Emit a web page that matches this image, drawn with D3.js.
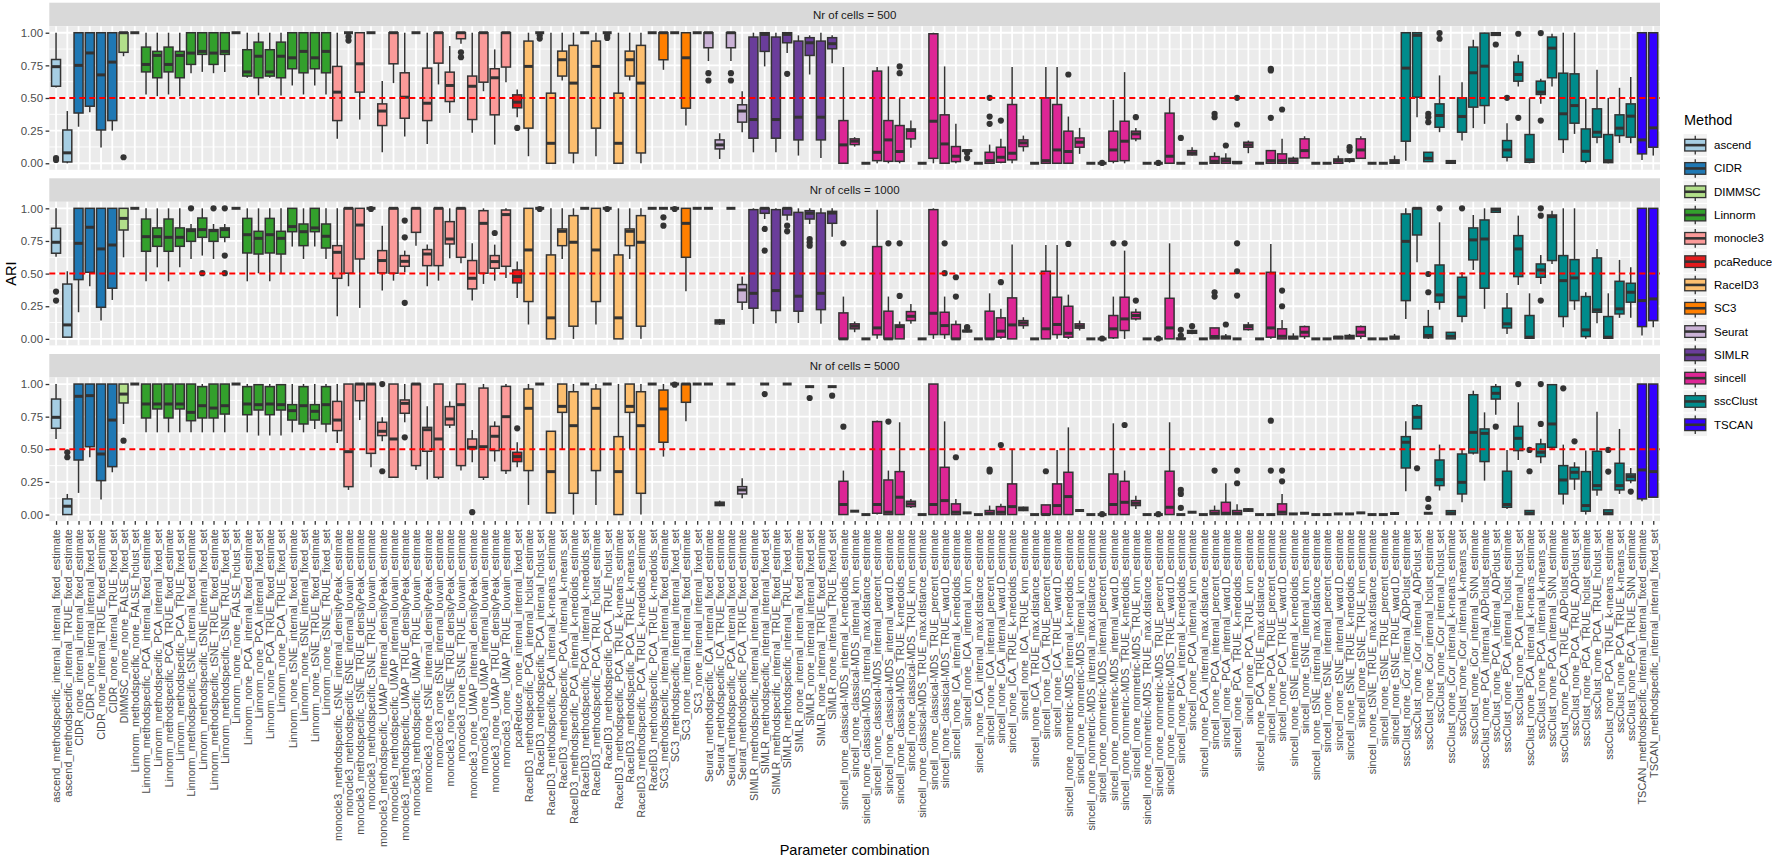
<!DOCTYPE html>
<html><head><meta charset="utf-8">
<script src="https://cdn.jsdelivr.net/npm/d3@7"></script>
<style>
body{margin:0;background:#fff;}
text{font-family:"Liberation Sans",Arial,Helvetica,sans-serif;}
</style>
</head><body>
<svg id="chart" width="1772" height="863"></svg>
<script>
// ---------------- DATA ----------------
const categories = [
"ascend_methodspecific_internal_internal_fixed_estimate",
"ascend_methodspecific_internal_TRUE_fixed_estimate",
"CIDR_none_internal_internal_fixed_estimate",
"CIDR_none_internal_internal_fixed_set",
"CIDR_none_internal_TRUE_fixed_estimate",
"CIDR_none_internal_TRUE_fixed_set",
"DIMMSC_none_none_FALSE_fixed_set",
"Linnorm_methodspecific_none_FALSE_hclust_set",
"Linnorm_methodspecific_PCA_internal_fixed_estimate",
"Linnorm_methodspecific_PCA_internal_fixed_set",
"Linnorm_methodspecific_PCA_TRUE_fixed_estimate",
"Linnorm_methodspecific_PCA_TRUE_fixed_set",
"Linnorm_methodspecific_tSNE_internal_fixed_estimate",
"Linnorm_methodspecific_tSNE_internal_fixed_set",
"Linnorm_methodspecific_tSNE_TRUE_fixed_estimate",
"Linnorm_methodspecific_tSNE_TRUE_fixed_set",
"Linnorm_none_none_FALSE_hclust_set",
"Linnorm_none_PCA_internal_fixed_estimate",
"Linnorm_none_PCA_internal_fixed_set",
"Linnorm_none_PCA_TRUE_fixed_estimate",
"Linnorm_none_PCA_TRUE_fixed_set",
"Linnorm_none_tSNE_internal_fixed_estimate",
"Linnorm_none_tSNE_internal_fixed_set",
"Linnorm_none_tSNE_TRUE_fixed_estimate",
"Linnorm_none_tSNE_TRUE_fixed_set",
"monocle3_methodspecific_tSNE_internal_densityPeak_estimate",
"monocle3_methodspecific_tSNE_internal_louvain_estimate",
"monocle3_methodspecific_tSNE_TRUE_densityPeak_estimate",
"monocle3_methodspecific_tSNE_TRUE_louvain_estimate",
"monocle3_methodspecific_UMAP_internal_densityPeak_estimate",
"monocle3_methodspecific_UMAP_internal_louvain_estimate",
"monocle3_methodspecific_UMAP_TRUE_densityPeak_estimate",
"monocle3_methodspecific_UMAP_TRUE_louvain_estimate",
"monocle3_none_tSNE_internal_densityPeak_estimate",
"monocle3_none_tSNE_internal_louvain_estimate",
"monocle3_none_tSNE_TRUE_densityPeak_estimate",
"monocle3_none_tSNE_TRUE_louvain_estimate",
"monocle3_none_UMAP_internal_densityPeak_estimate",
"monocle3_none_UMAP_internal_louvain_estimate",
"monocle3_none_UMAP_TRUE_densityPeak_estimate",
"monocle3_none_UMAP_TRUE_louvain_estimate",
"pcaReduce_none_internal_internal_fixed_set",
"RaceID3_methodspecific_PCA_internal_hclust_estimate",
"RaceID3_methodspecific_PCA_internal_hclust_set",
"RaceID3_methodspecific_PCA_internal_k-means_estimate",
"RaceID3_methodspecific_PCA_internal_k-means_set",
"RaceID3_methodspecific_PCA_internal_k-medoids_estimate",
"RaceID3_methodspecific_PCA_internal_k-medoids_set",
"RaceID3_methodspecific_PCA_TRUE_hclust_estimate",
"RaceID3_methodspecific_PCA_TRUE_hclust_set",
"RaceID3_methodspecific_PCA_TRUE_k-means_estimate",
"RaceID3_methodspecific_PCA_TRUE_k-means_set",
"RaceID3_methodspecific_PCA_TRUE_k-medoids_estimate",
"RaceID3_methodspecific_PCA_TRUE_k-medoids_set",
"SC3_methodspecific_internal_internal_fixed_estimate",
"SC3_methodspecific_internal_internal_fixed_set",
"SC3_none_internal_internal_fixed_estimate",
"SC3_none_internal_internal_fixed_set",
"Seurat_methodspecific_ICA_internal_fixed_estimate",
"Seurat_methodspecific_ICA_TRUE_fixed_estimate",
"Seurat_methodspecific_PCA_internal_fixed_estimate",
"Seurat_methodspecific_PCA_TRUE_fixed_estimate",
"SIMLR_methodspecific_internal_internal_fixed_estimate",
"SIMLR_methodspecific_internal_internal_fixed_set",
"SIMLR_methodspecific_internal_TRUE_fixed_estimate",
"SIMLR_methodspecific_internal_TRUE_fixed_set",
"SIMLR_none_internal_internal_fixed_estimate",
"SIMLR_none_internal_internal_fixed_set",
"SIMLR_none_internal_TRUE_fixed_estimate",
"SIMLR_none_internal_TRUE_fixed_set",
"sincell_none_classical-MDS_internal_k-medoids_estimate",
"sincell_none_classical-MDS_internal_knn_estimate",
"sincell_none_classical-MDS_internal_max.distance_estimate",
"sincell_none_classical-MDS_internal_percent_estimate",
"sincell_none_classical-MDS_internal_ward.D_estimate",
"sincell_none_classical-MDS_TRUE_k-medoids_estimate",
"sincell_none_classical-MDS_TRUE_knn_estimate",
"sincell_none_classical-MDS_TRUE_max.distance_estimate",
"sincell_none_classical-MDS_TRUE_percent_estimate",
"sincell_none_classical-MDS_TRUE_ward.D_estimate",
"sincell_none_ICA_internal_k-medoids_estimate",
"sincell_none_ICA_internal_knn_estimate",
"sincell_none_ICA_internal_max.distance_estimate",
"sincell_none_ICA_internal_percent_estimate",
"sincell_none_ICA_internal_ward.D_estimate",
"sincell_none_ICA_TRUE_k-medoids_estimate",
"sincell_none_ICA_TRUE_knn_estimate",
"sincell_none_ICA_TRUE_max.distance_estimate",
"sincell_none_ICA_TRUE_percent_estimate",
"sincell_none_ICA_TRUE_ward.D_estimate",
"sincell_none_nonmetric-MDS_internal_k-medoids_estimate",
"sincell_none_nonmetric-MDS_internal_knn_estimate",
"sincell_none_nonmetric-MDS_internal_max.distance_estimate",
"sincell_none_nonmetric-MDS_internal_percent_estimate",
"sincell_none_nonmetric-MDS_internal_ward.D_estimate",
"sincell_none_nonmetric-MDS_TRUE_k-medoids_estimate",
"sincell_none_nonmetric-MDS_TRUE_knn_estimate",
"sincell_none_nonmetric-MDS_TRUE_max.distance_estimate",
"sincell_none_nonmetric-MDS_TRUE_percent_estimate",
"sincell_none_nonmetric-MDS_TRUE_ward.D_estimate",
"sincell_none_PCA_internal_k-medoids_estimate",
"sincell_none_PCA_internal_knn_estimate",
"sincell_none_PCA_internal_max.distance_estimate",
"sincell_none_PCA_internal_percent_estimate",
"sincell_none_PCA_internal_ward.D_estimate",
"sincell_none_PCA_TRUE_k-medoids_estimate",
"sincell_none_PCA_TRUE_knn_estimate",
"sincell_none_PCA_TRUE_max.distance_estimate",
"sincell_none_PCA_TRUE_percent_estimate",
"sincell_none_PCA_TRUE_ward.D_estimate",
"sincell_none_tSNE_internal_k-medoids_estimate",
"sincell_none_tSNE_internal_knn_estimate",
"sincell_none_tSNE_internal_max.distance_estimate",
"sincell_none_tSNE_internal_percent_estimate",
"sincell_none_tSNE_internal_ward.D_estimate",
"sincell_none_tSNE_TRUE_k-medoids_estimate",
"sincell_none_tSNE_TRUE_knn_estimate",
"sincell_none_tSNE_TRUE_max.distance_estimate",
"sincell_none_tSNE_TRUE_percent_estimate",
"sincell_none_tSNE_TRUE_ward.D_estimate",
"sscClust_none_iCor_internal_ADPclust_estimate",
"sscClust_none_iCor_internal_ADPclust_set",
"sscClust_none_iCor_internal_hclust_estimate",
"sscClust_none_iCor_internal_hclust_set",
"sscClust_none_iCor_internal_k-means_estimate",
"sscClust_none_iCor_internal_k-means_set",
"sscClust_none_iCor_internal_SNN_estimate",
"sscClust_none_PCA_internal_ADPclust_estimate",
"sscClust_none_PCA_internal_ADPclust_set",
"sscClust_none_PCA_internal_hclust_estimate",
"sscClust_none_PCA_internal_hclust_set",
"sscClust_none_PCA_internal_k-means_estimate",
"sscClust_none_PCA_internal_k-means_set",
"sscClust_none_PCA_internal_SNN_estimate",
"sscClust_none_PCA_TRUE_ADPclust_estimate",
"sscClust_none_PCA_TRUE_ADPclust_set",
"sscClust_none_PCA_TRUE_hclust_estimate",
"sscClust_none_PCA_TRUE_hclust_set",
"sscClust_none_PCA_TRUE_k-means_estimate",
"sscClust_none_PCA_TRUE_k-means_set",
"sscClust_none_PCA_TRUE_SNN_estimate",
"TSCAN_methodspecific_internal_internal_fixed_estimate",
"TSCAN_methodspecific_internal_internal_fixed_set"
];

const methods = ["ascend","CIDR","DIMMSC","Linnorm","monocle3","pcaReduce","RaceID3","SC3","Seurat","SIMLR","sincell","sscClust","TSCAN"];
const methodColors = ["#A6CEE3","#1F78B4","#B2DF8A","#33A02C","#FB9A99","#E31A1C","#FDBF6F","#FF7F00","#CAB2D6","#6A3D9A","#DD2695","#008B8B","#3300FF"];

const panelLabels = ["Nr of cells = 500","Nr of cells = 1000","Nr of cells = 5000"];
const yTicks = [0, 0.25, 0.5, 0.75, 1];
const yTickLabels = ["0.00","0.25","0.50","0.75","1.00"];
const refLine = 0.5;

// box statistics per category: [lower whisker, Q1, median, Q3, upper whisker]
const stats500 = [
[0.58,0.59,0.74,0.795,1],[0,0.01,0.08,0.255,0.40],[0.28,0.385,0.75,1,1],[0.39,0.437,0.845,1,1],[0.12,0.255,0.677,1,1],[0.25,0.327,0.775,1,1],[0.82,0.85,1,1,1],[1,1,1,1,1],
[0.527,0.70,0.757,0.89,1],[0.514,0.655,0.826,0.857,1],[0.527,0.70,0.757,0.89,1],[0.514,0.655,0.826,0.857,1],[0.69,0.757,0.844,1,1],[0.70,0.834,0.857,1,1],[0.69,0.757,0.844,1,1],[0.70,0.834,0.857,1,1],
[1,1,1,1,1],[0.655,0.668,0.70,0.87,1],[0.52,0.655,0.82,0.928,1],[0.655,0.668,0.70,0.87,1],[0.52,0.655,0.82,0.928,1],[0.596,0.724,0.808,1,1],[0.527,0.693,0.857,1,1],[0.596,0.724,0.808,1,1],[0.527,0.693,0.857,1,1],
[0.187,0.327,0.545,0.742,1],[1,1,1,1,1],[0.335,0.545,0.762,1,1],[1,1,1,1,1],[0.084,0.289,0.40,0.455,0.63],[0.614,0.762,1,1,1],[0.205,0.345,0.506,0.693,1],[1,1,1,1,1],
[0.148,0.327,0.46,0.729,1],[0.604,0.767,1,1,1],[0.386,0.473,0.596,0.698,0.898],[0.916,0.954,1,1,1],[0.233,0.335,0.59,0.668,1],[0.552,0.621,1,1,1],[0.143,0.371,0.655,0.724,0.872],[0.621,0.737,1,1,1],
[0.353,0.425,0.468,0.524,0.565],
[0.054,0.269,0.742,0.936,1],[1,1,1,1,1],[0,0,0.153,0.537,1],[0.634,0.668,0.793,0.859,1],[0,0.079,0.614,0.903,1],[1,1,1,1,1],
[0.054,0.269,0.742,0.936,1],[1,1,1,1,1],[0,0,0.153,0.537,1],[0.634,0.668,0.793,0.859,1],[0,0.079,0.614,0.903,1],[1,1,1,1,1],
[0.716,0.793,1,1,1],[1,1,1,1,1],[0.289,0.422,0.808,1,1],[1,1,1,1,1],
[0.783,0.885,1,1,1],[0.033,0.11,0.141,0.179,0.23],[0.783,0.885,1,1,1],[0.238,0.315,0.40,0.448,0.552],
[0.084,0.192,0.335,0.967,1],[0.742,0.857,0.987,1,1],[0.084,0.192,0.335,0.967,1],[0.844,0.923,0.987,1,1],[0.059,0.179,0.353,0.936,0.98],[0.68,0.826,0.923,0.962,0.98],[0.04,0.179,0.353,0.936,1],[0.767,0.877,0.916,0.962,0.98],
[0,0,0.141,0.327,0.737],[0.128,0.143,0.169,0.187,0.20],[0,0,0,0,0],[0,0.02,0.084,0.706,0.737],[0,0.015,0.179,0.327,0.742],[0,0.015,0.09,0.289,0.501],[0.118,0.187,0.251,0.263,0.327],[0,0,0,0,0],[0,0.038,0.322,0.992,1],[0,0,0.148,0.371,0.742],
[0,0.013,0.054,0.128,0.302],[0.09,0.092,0.097,0.10,0.10],[0,0,0,0,0],[0,0,0.02,0.084,0.143],[0,0.008,0.046,0.123,0.187],[0,0.026,0.077,0.45,0.737],[0.09,0.128,0.156,0.179,0.212],[0,0,0,0,0],[0,0,0.02,0.501,0.737],[0,0,0.102,0.45,0.737],
[0,0,0.09,0.246,0.358],[0.072,0.123,0.161,0.194,0.271],[0,0,0,0,0],[0,0,0,0,0],[0,0.015,0.102,0.246,0.486],[0,0.02,0.169,0.322,0.698],[0.169,0.187,0.225,0.246,0.271],[0,0,0,0,0],[0,0,0,0,0],[0,0,0.054,0.384,0.501],
[0,0,0,0,0],[0.059,0.064,0.079,0.097,0.123],[0,0,0,0,0],[0,0,0.015,0.051,0.084],[0,0,0.02,0.038,0.077],[0,0,0.003,0.013,0.013],[0.077,0.123,0.141,0.161,0.174],[0,0,0,0,0],[0,0,0.02,0.097,0.097],[0,0,0.02,0.072,0.187],
[0,0,0.02,0.038,0.051],[0.041,0.041,0.097,0.187,0.207],[0,0,0,0,0],[0,0,0,0,0],[0,0,0.02,0.033,0.059],[0.005,0.015,0.026,0.033,0.04],[0.038,0.038,0.102,0.187,0.207],[0,0,0,0,0],[0,0,0,0,0],[0,0,0.013,0.026,0.059],
[0.02,0.169,0.729,1,1],[0.353,0.506,0.98,1,1],[0.013,0.013,0.038,0.084,0.084],[0.238,0.276,0.366,0.455,0.673],[0,0,0.01,0.02,0.02],[0.174,0.238,0.358,0.501,0.621],[0.269,0.43,0.693,0.89,0.946],
[0.302,0.442,0.744,0.997,1],[0.98,0.98,0.99,1,1],[0.013,0.046,0.102,0.174,0.307],[0.588,0.629,0.68,0.775,0.831],[0,0.008,0.026,0.22,0.501],[0.455,0.527,0.545,0.629,0.647],[0.588,0.655,0.882,0.967,0.992],
[0.079,0.182,0.379,0.69,1],[0.225,0.307,0.442,0.685,1],[0,0.015,0.092,0.263,0.494],[0.153,0.2,0.238,0.417,0.716],[0,0.005,0.02,0.22,0.501],[0.156,0.212,0.269,0.371,0.578],[0.153,0.2,0.361,0.455,0.66],
[0.026,0.072,0.179,1,1],[0.059,0.123,0.271,1,1]
];

const stats1000 = [
[0.63,0.656,0.74,0.847,1],[0.013,0.013,0.107,0.42,0.518],[0.204,0.454,0.732,1,1],[0.403,0.51,0.855,1,1],[0.14,0.242,0.689,1,1],[0.298,0.388,0.719,1,1],[0.625,0.834,0.923,1,1],[1,1,1,1,1],
[0.441,0.671,0.783,0.918,1],[0.548,0.709,0.783,0.85,1],[0.441,0.671,0.778,0.918,1],[0.548,0.709,0.778,0.85,1],[0.612,0.747,0.829,0.842,0.88],[0.638,0.778,0.837,0.926,1],[0.612,0.747,0.829,0.837,0.88],[0.74,0.778,0.837,0.85,0.88],
[1,1,1,1,1],[0.441,0.658,0.798,0.923,1],[0.503,0.65,0.77,0.824,1],[0.441,0.658,0.798,0.923,1],[0.503,0.65,0.77,0.824,1],[0.707,0.821,0.86,1,1],[0.612,0.714,0.821,0.88,1],[0.707,0.821,0.85,1,1],[0.612,0.696,0.786,0.88,1],
[0.173,0.464,0.663,0.714,1],[0.403,0.503,1,1,1],[0.237,0.612,0.872,1,1],[1,1,1,1,1],[0.37,0.505,0.6,0.676,0.867],[0.446,0.503,1,1,1],[0.51,0.556,0.594,0.638,0.676],[0.714,0.816,1,1,1],
[0.403,0.561,0.65,0.684,0.722],[0.446,0.561,1,1,1],[0.617,0.727,0.765,0.898,1],[0.579,0.625,1,1,1],[0.293,0.383,0.464,0.6,0.732],[0.421,0.503,0.885,0.982,1],[0.446,0.541,0.592,0.638,0.722],[0.467,0.556,0.952,0.987,1],
[0.314,0.429,0.477,0.528,0.592],
[0.11,0.286,0.681,1,1],[1,1,1,1,1],[0,0,0.161,0.643,1],[0.612,0.714,0.824,0.842,1],[0,0.097,0.74,0.944,1],[1,1,1,1,1],
[0.11,0.286,0.681,1,1],[1,1,1,1,1],[0,0,0.161,0.643,1],[0.612,0.714,0.824,0.842,1],[0,0.097,0.74,0.944,1],[1,1,1,1,1],
[1,1,1,1,1],[1,1,1,1,1],[0.365,0.625,0.885,1,1],[1,1,1,1,1],
[1,1,1,1,1],[0.107,0.115,0.133,0.145,0.153],[1,1,1,1,1],[0.222,0.281,0.375,0.416,0.477],
[0.115,0.235,0.349,0.99,1],[0.918,0.962,1,1,1],[0.12,0.217,0.37,0.99,1],[0.906,0.949,1,1,1],[0.122,0.212,0.327,0.969,1],[0.88,0.918,0.962,0.982,1],[0.115,0.224,0.349,0.964,1],[0.783,0.885,0.964,0.977,1],
[0,0,0,0.199,0.324],[0.051,0.077,0.097,0.115,0.133],[0,0,0,0,0],[0,0.031,0.084,0.707,0.99],[0,0,0,0.212,0.324],[0,0,0.094,0.107,0.133],[0.115,0.14,0.173,0.209,0.268],[0,0,0,0,0],[0,0.033,0.196,0.99,1],[0,0.033,0.102,0.204,0.324],
[0,0,0,0.11,0.14],[0.05,0.055,0.06,0.065,0.07],[0,0,0,0,0],[0,0,0,0.212,0.349],[0,0.013,0.059,0.161,0.23],[0,0,0.107,0.314,0.722],[0.077,0.102,0.122,0.14,0.166],[0,0,0,0,0],[0,0,0.077,0.518,0.719],[0,0.033,0.11,0.319,0.719],
[0,0.013,0.043,0.25,0.339],[0.064,0.082,0.097,0.115,0.14],[0,0,0,0,0],[0,0,0,0,0],[0,0.008,0.077,0.179,0.324],[0,0.064,0.153,0.319,0.676],[0.14,0.153,0.179,0.204,0.23],[0,0,0,0,0],[0,0,0,0,0],[0,0,0.084,0.311,0.732],
[0,0,0,0.005,0.01],[0.035,0.043,0.051,0.064,0.07],[0,0,0,0,0],[0,0,0.018,0.084,0.084],[0,0,0.013,0.02,0.038],[0,0,0,0,0],[0.064,0.071,0.094,0.107,0.128],[0,0,0,0,0],[0,0.013,0.084,0.51,0.727],[0,0,0.02,0.077,0.145],
[0,0,0.008,0.02,0.043],[0,0.018,0.051,0.094,0.102],[0,0,0,0,0],[0,0,0,0,0],[0,0,0.013,0.018,0.018],[0,0,0.013,0.026,0.038],[0,0.02,0.051,0.094,0.102],[0,0,0,0,0],[0,0,0,0,0],[0,0,0.008,0.02,0.038],
[0.153,0.293,0.747,0.957,1],[0.587,0.796,1,1,1],[0,0.008,0.026,0.094,0.222],[0.224,0.281,0.337,0.566,0.893],[0,0,0.02,0.05,0.05],[0.128,0.173,0.319,0.472,0.51],[0.528,0.605,0.758,0.85,0.949],
[0.23,0.388,0.765,0.911,1],[0.97,0.97,0.99,1,1],[0.038,0.084,0.115,0.235,0.352],[0.413,0.477,0.689,0.791,0.944],[0,0.005,0.013,0.179,0.349],[0.421,0.472,0.528,0.574,0.643],[0.574,0.6,0.936,0.949,0.982],
[0.089,0.171,0.446,0.638,1],[0.222,0.293,0.467,0.607,1],[0,0.018,0.069,0.324,0.357],[0.12,0.204,0.222,0.62,0.689],[0,0.005,0.013,0.171,0.349],[0.161,0.191,0.23,0.441,0.605],[0.161,0.281,0.357,0.426,0.548],
[0.026,0.094,0.293,1,1],[0.089,0.14,0.306,1,1]
];

const stats5000 = [
[0.579,0.661,0.745,0.885,1],[0,0,0.064,0.12,0.158],[0.166,0.418,0.906,1,1],[0.439,0.52,0.911,1,1],[0.115,0.26,0.464,1,1],[0.324,0.367,0.724,1,1],[0.694,0.855,0.923,1,1],[1,1,1,1,1],
[0.63,0.74,0.847,1,1],[0.63,0.809,0.847,1,1],[0.63,0.74,0.847,1,1],[0.63,0.809,0.847,1,1],[0.63,0.719,0.783,1,1],[0.63,0.74,0.834,0.98,1],[0.63,0.74,0.816,1,1],[0.63,0.77,0.834,1,1],
[1,1,1,1,1],[0.63,0.765,0.847,0.98,1],[0.605,0.801,0.842,0.995,1],[0.605,0.765,0.847,0.98,1],[0.605,0.801,0.842,0.995,1],[0.63,0.724,0.796,0.842,1],[0.63,0.694,0.834,0.98,1],[0.656,0.724,0.791,0.842,1],[0.63,0.694,0.842,0.98,1],
[0.548,0.643,0.724,0.867,1],[0.189,0.214,0.482,1,1],[0.724,0.872,1,1,1],[0.362,0.469,1,1,1],[0.561,0.605,0.638,0.707,0.745],[0.28,0.286,0.579,1,1],[0.707,0.776,0.852,0.878,1],[0.342,0.375,1,1,1],
[0.268,0.485,0.65,0.668,0.829],[0.27,0.286,0.579,1,1],[0.663,0.686,0.732,0.827,0.867],[0.337,0.375,0.842,1,1],[0.4,0.503,0.515,0.579,0.648],[0.265,0.286,0.52,0.969,1],[0.406,0.49,0.6,0.676,0.714],[0.311,0.337,0.75,0.982,1],
[0.362,0.406,0.444,0.477,0.554],
[0.074,0.337,0.814,0.962,1],[1,1,1,1,1],[0.013,0.013,0.329,0.638,0.638],[0.503,0.783,0.829,1,1],[0,0.163,0.681,0.941,1],[1,1,1,1,1],
[0.074,0.337,0.814,0.962,1],[1,1,1,1,1],[0,0,0.329,0.597,1],[0.503,0.783,0.829,1,1],[0,0.163,0.681,0.941,1],[1,1,1,1,1],
[0.444,0.554,0.809,0.954,1],[1,1,1,1,1],[0.714,0.86,1,1,1],[1,1,1,1,1],
[1,1,1,1,1],[0.064,0.069,0.082,0.095,0.107],[1,1,1,1,1],[0.125,0.158,0.189,0.214,0.278],
null,[1,1,1,1,1],null,[1,1,1,1,1],null,[0.98,0.98,0.98,0.98,0.98],null,[0.98,0.98,0.98,0.98,0.98],
[0,0,0.077,0.255,0.337],[0.026,0.026,0.026,0.026,0.026],[0,0,0,0,0],[0,0.01,0.077,0.712,0.72],[0,0,0.018,0.265,0.337],[0,0,0.133,0.329,0.707],[0.051,0.061,0.082,0.102,0.12],[0,0,0,0,0],[0,0,0.077,1,1],[0,0,0.107,0.362,0.714],
[0,0,0.018,0.082,0.12],[0.013,0.013,0.013,0.013,0.013],[0,0,0,0,0],[0,0,0.01,0.031,0.069],[0,0,0.018,0.061,0.082],[0,0,0.061,0.235,0.495],[0.026,0.031,0.043,0.056,0.061],[0,0,0,0,0],[0,0,0,0.074,0.074],[0,0,0.069,0.235,0.495],
[0,0,0.138,0.324,0.668],[0.031,0.031,0.031,0.031,0.031],[0,0,0,0,0],[0,0,0,0,0],[0,0,0.077,0.311,0.699],[0,0,0.094,0.255,0.337],[0.043,0.069,0.087,0.107,0.145],[0,0,0,0,0],[0,0,0,0,0],[0,0,0.056,0.332,0.707],
[0,0,0,0,0],[0.018,0.018,0.018,0.018,0.018],[0,0,0,0,0],[0,0,0.01,0.031,0.069],[0,0,0.01,0.094,0.24],[0,0,0.01,0.031,0.08],[0.02,0.026,0.036,0.043,0.05],[0,0,0,0,0],[0,0,0,0,0],[0,0,0.018,0.082,0.158],
[0.005,0.005,0.005,0.005,0.005],[0.01,0.01,0.01,0.01,0.01],[0,0,0,0,0],[0,0,0,0,0],[0.005,0.005,0.005,0.005,0.005],[0.005,0.005,0.005,0.005,0.005],[0.013,0.013,0.013,0.013,0.013],[0,0,0,0,0],[0,0,0,0,0],[0.008,0.008,0.008,0.008,0.008],
[0.179,0.357,0.554,0.597,0.714],[0.656,0.656,0.745,0.834,0.847],[0.01,0.01,0.01,0.01,0.01],[0.184,0.222,0.268,0.418,0.536],[0,0,0.01,0.03,0.03],[0.094,0.158,0.247,0.464,0.503],[0.46,0.472,0.63,0.918,0.949],
[0.26,0.406,0.622,0.656,0.783],[0.765,0.885,0.929,0.98,1],[0.043,0.056,0.077,0.332,0.495],[0.418,0.49,0.584,0.676,0.86],[0,0,0.01,0.031,0.031],[0.393,0.444,0.477,0.541,0.58],[0.503,0.515,0.694,0.995,1],
[0.077,0.158,0.265,0.375,0.536],[0.189,0.273,0.324,0.362,0.401],[0,0.026,0.069,0.329,0.49],[0.145,0.189,0.222,0.485,0.788],[0,0,0.01,0.036,0.036],[0.158,0.189,0.222,0.393,0.656],[0.24,0.26,0.291,0.311,0.357],
[0.102,0.12,0.342,1,1],[0.133,0.133,0.329,1,1]
];

// outlying points: [category index (0-based), ARI]
const outliers500 = [
[0,0.04],[0,0.025],[6,0.046],[26,0.97],[26,0.94],[36,0.85],[36,0.813],[41,0.271],[43,0.98],[43,0.955],[49,0.98],[49,0.96],
[58,0.69],[58,0.634],[60,0.69],[60,0.634],[65,0.685],[75,0.742],[75,0.69],[81,0.08],[81,0.04],[83,0.501],[83,0.358],[83,0.302],
[84,0.327],[90,0.68],[93,0.003],[96,0.353],[98,0.003],[100,0.194],[103,0.379],[103,0.353],[104,0.136],[105,0.501],[105,0.297],
[108,0.724],[108,0.711],[108,0.348],[109,0.412],[115,0.123],[115,0.097],[122,0.379],[122,0.353],[122,0.315],[123,0.997],[123,0.954],
[128,0.91],[129,0.501],[130,0.992],[130,0.348],[132,0.997],[132,0.327]
];
const outliers1000 = [
[0,0.362],[0,0.293],[12,1],[13,0.503],[14,1],[15,1],[15,0.638],[15,0.503],[28,0.995],[31,0.906],[31,0.778],[31,0.276],[39,0.811],
[43,0.995],[49,0.995],[54,0.931],[54,0.867],[55,0.995],[63,0.842],[63,0.676],[65,0.867],[65,0.824],[67,0.765],[67,0.74],[67,0.714],
[70,0.732],[74,0.732],[75,0.732],[75,0.329],[79,0.732],[79,0.503],[80,0.472],[80,0.324],[81,0.09],[81,0.085],[84,0.434],[90,0.727],
[93,0.003],[94,0.732],[95,0.732],[96,0.293],[98,0.003],[100,0.069],[100,0.026],[101,0.097],[103,0.357],[103,0.324],[104,0.11],
[105,0.732],[105,0.518],[105,0.332],[109,0.37],[109,0.25],[122,0.497],[122,0.357],[123,1],[125,1],[132,1],[132,0.944],[132,0.293]
];
const outliers5000 = [
[1,0.477],[1,0.439],[6,0.566],[29,1],[29,0.332],[31,0.592],[37,0.018],[41,0.661],[55,0.995],[63,0.923],[67,0.893],[69,0.911],
[70,0.673],[74,0.712],[80,0.439],[83,0.345],[83,0.33],[84,0.533],[88,0.332],[93,0.003],[95,0.686],[98,0.003],[100,0.189],[100,0.158],[100,0.051],
[103,0.337],[105,0.337],[105,0.24],[108,0.719],[108,0.337],[109,0.337],[109,0.255],[121,0.355],[122,0.12],[122,0.056],[128,0.673],
[130,1],[131,0.495],[131,0.332],[132,1],[132,0.694],[134,0.967],[135,0.561],[138,0.495],[138,0.329],[140,0.176]
];

const panelStats = [stats500, stats1000, stats5000];
const panelOutliers = [outliers500, outliers1000, outliers5000];

// ---------------- LAYOUT ----------------
const plotLeft = 49.3, plotRight = 1660;
const panelTops = [26.2, 201.8, 377.5];
const panelH = 143.6, stripH = 23.5;
const ink = "#333333", axisText = "#4D4D4D";

const svg = d3.select("#chart");
svg.append("rect").attr("width",1772).attr("height",863).attr("fill","#fff");

const x = d3.scalePoint().domain(categories).range([plotLeft, plotRight]).padding(0.6);
const step = x.step();
const boxW = step * 0.8;
const color = d3.scaleOrdinal().domain(methods).range(methodColors);
const methodOf = c => c.split("_")[0];

panelLabels.forEach((label, pi) => {
  const top = panelTops[pi], bottom = top + panelH;
  const y = d3.scaleLinear().domain([-0.05, 1.05]).range([bottom, top]);
  const g = svg.append("g");

  // strip
  g.append("rect").attr("x",plotLeft).attr("y",top-stripH).attr("width",plotRight-plotLeft).attr("height",stripH).attr("fill","#D9D9D9");
  g.append("text").attr("x",(plotLeft+plotRight)/2).attr("y",top-stripH/2).attr("dy","0.36em")
    .attr("text-anchor","middle").attr("font-size","11.5px").attr("fill","#1A1A1A").text(label);

  // panel background
  g.append("rect").attr("x",plotLeft).attr("y",top).attr("width",plotRight-plotLeft).attr("height",panelH).attr("fill","#EBEBEB");

  // minor horizontal grid
  const minor = d3.range(yTicks.length-1).map(i => (yTicks[i]+yTicks[i+1])/2);
  g.selectAll(".minor").data(minor).join("line")
    .attr("x1",plotLeft).attr("x2",plotRight).attr("y1",d=>y(d)).attr("y2",d=>y(d))
    .attr("stroke","#fff").attr("stroke-width",0.9);
  // major horizontal grid
  g.selectAll(".major").data(yTicks).join("line")
    .attr("x1",plotLeft).attr("x2",plotRight).attr("y1",d=>y(d)).attr("y2",d=>y(d))
    .attr("stroke","#fff").attr("stroke-width",1.8);
  // vertical grid
  g.selectAll(".vgrid").data(categories).join("line")
    .attr("x1",d=>x(d)).attr("x2",d=>x(d)).attr("y1",top).attr("y2",bottom)
    .attr("stroke","#fff").attr("stroke-width",1.8);

  // boxplots
  const stats = panelStats[pi];
  const items = categories.map((c,i)=>({c, s:stats[i]})).filter(d=>d.s);
  const bg = g.append("g");
  items.forEach(d => {
    const cx = x(d.c), s = d.s;
    const col = color(methodOf(d.c));
    bg.append("line").attr("x1",cx).attr("x2",cx).attr("y1",y(s[4])).attr("y2",y(s[3])).attr("stroke",ink).attr("stroke-width",1.5);
    bg.append("line").attr("x1",cx).attr("x2",cx).attr("y1",y(s[1])).attr("y2",y(s[0])).attr("stroke",ink).attr("stroke-width",1.5);
    bg.append("rect").attr("x",cx-boxW/2).attr("y",y(s[3])).attr("width",boxW).attr("height",Math.max(0,y(s[1])-y(s[3])))
      .attr("fill",col).attr("stroke",ink).attr("stroke-width",1.5);
    bg.append("line").attr("x1",cx-boxW/2).attr("x2",cx+boxW/2).attr("y1",y(s[2])).attr("y2",y(s[2])).attr("stroke",ink).attr("stroke-width",3);
  });
  // outliers
  g.selectAll(".out").data(panelOutliers[pi]).join("circle")
    .attr("cx",d=>x(categories[d[0]])).attr("cy",d=>y(d[1])).attr("r",3.1).attr("fill",ink);

  // reference line
  g.append("line").attr("x1",plotLeft).attr("x2",plotRight).attr("y1",y(refLine)).attr("y2",y(refLine))
    .attr("stroke","#FF0000").attr("stroke-width",2).attr("stroke-dasharray","6,4");

  // y axis
  const yAxis = d3.axisLeft(y).tickValues(yTicks).tickFormat((d,i)=>yTickLabels[i]).tickSize(3.7).tickPadding(2.5);
  const ya = g.append("g").attr("transform",`translate(${plotLeft},0)`).call(yAxis);
  ya.select(".domain").remove();
  ya.selectAll("line").attr("stroke",ink).attr("stroke-width",1.3);
  ya.selectAll("text").attr("font-size","11.5px").attr("fill",axisText).attr("font-family","Liberation Sans, Arial, sans-serif");

  // x axis only on bottom panel
  if (pi === panelLabels.length-1) {
    const xAxis = d3.axisBottom(x).tickSize(3.7).tickPadding(0);
    const xa = g.append("g").attr("transform",`translate(0,${bottom})`).call(xAxis);
    xa.select(".domain").remove();
    xa.selectAll("line").attr("stroke",ink).attr("stroke-width",1.3);
    xa.selectAll("text")
      .attr("font-size","10.9px").attr("fill",axisText).attr("font-family","Liberation Sans, Arial, sans-serif")
      .attr("text-anchor","end").attr("transform","translate(0,8) rotate(-90)")
      .attr("x",0).attr("y",0).attr("dy","0.35em");
  }
});

// axis titles
svg.append("text").attr("transform",`translate(11,${(panelTops[0]+panelTops[2]+panelH)/2}) rotate(-90)`)
  .attr("text-anchor","middle").attr("dy","0.35em").attr("font-size","14.5px").attr("fill","#000").text("ARI");
svg.append("text").attr("x",(plotLeft+plotRight)/2).attr("y",855)
  .attr("text-anchor","middle").attr("font-size","14.5px").attr("fill","#000").text("Parameter combination");

// legend
const legX = 1683, legTitleY = 124.5, keyTop = 133.5, keyH = 23.3, keyW = 24.5;
svg.append("text").attr("x",legX+1).attr("y",legTitleY).attr("font-size","14.5px").attr("fill","#000").text("Method");
const leg = svg.append("g").selectAll("g").data(methods).join("g")
  .attr("transform",(d,i)=>`translate(${legX},${keyTop + i*keyH})`);
leg.append("rect").attr("width",keyW).attr("height",keyH).attr("fill","#F2F2F2").attr("stroke","#fff").attr("stroke-width",1);
leg.append("line").attr("x1",keyW/2).attr("x2",keyW/2).attr("y1",keyH*0.1).attr("y2",keyH*0.9).attr("stroke",ink).attr("stroke-width",1.3);
leg.append("rect").attr("x",keyW/2-10.5).attr("y",keyH*0.25).attr("width",21).attr("height",keyH*0.5)
  .attr("fill",d=>color(d)).attr("stroke",ink).attr("stroke-width",1.3);
leg.append("line").attr("x1",keyW/2-10.5).attr("x2",keyW/2+10.5).attr("y1",keyH*0.5).attr("y2",keyH*0.5).attr("stroke",ink).attr("stroke-width",2.6);
leg.append("text").attr("x",keyW+6.5).attr("y",keyH/2).attr("dy","0.35em").attr("font-size","11.5px").attr("fill","#000").text(d=>d);
</script>
</body></html>
